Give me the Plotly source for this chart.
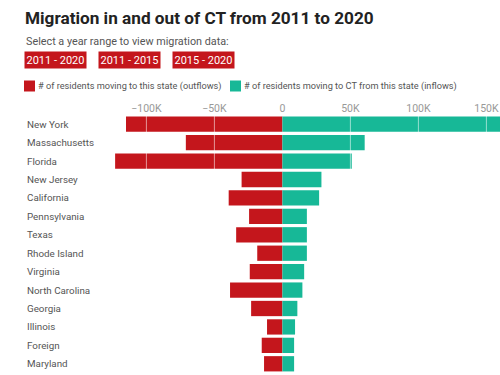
import plotly.graph_objects as go

states = ["New York", "Massachusetts", "Florida", "New Jersey", "California",
          "Pennsylvania", "Texas", "Rhode Island", "Virginia", "North Carolina",
          "Georgia", "Illinois", "Foreign", "Maryland"]
outflows = [115000, 71000, 123000, 30000, 39500, 24500, 34000, 18500, 24000,
            38500, 23000, 11300, 15200, 13500]
inflows = [165000, 60500, 51000, 28700, 27000, 18000, 18000, 18000, 16000,
           14700, 11000, 9300, 8600, 8600]
tick_vals = [-100000, -50000, 0, 50000, 100000, 150000]
tick_text = ["\u2212100K", "\u221250K", "0", "50K", "100K", "150K"]
year_ranges = ["2011 - 2020", "2011 - 2015", "2015 - 2020"]

RED = "#c4161c"
TEAL = "#17b897"
FONT = "Roboto"

TOP, BOTTOM = 115, 373
PH = BOTTOM - TOP


def py(p):
    return (BOTTOM - p) / PH


def px(p):
    return (p - 24) / 476


fig = go.Figure()
fig.add_trace(go.Bar(y=states, x=[-v for v in outflows], orientation="h",
                     marker=dict(color=RED, line=dict(width=0)),
                     name="# of residents moving to this state (outflows)", showlegend=False))
fig.add_trace(go.Bar(y=states, x=inflows, orientation="h",
                     marker=dict(color=TEAL, line=dict(width=0)),
                     name="# of residents moving to CT from this state (inflows)", showlegend=False))

fig.update_layout(
    width=500, height=375,
    margin=dict(l=24, r=0, t=TOP, b=375 - BOTTOM),
    paper_bgcolor="white", plot_bgcolor="white",
    barmode="relative", bargap=0.17,
    font=dict(family=FONT, color="#444"),
    xaxis=dict(range=[-190000, 160000], side="top", tickvals=tick_vals, ticktext=tick_text,
               tickfont=dict(size=10.5, color="#999"), showgrid=False,
               zeroline=False, showline=False, ticks="", fixedrange=True),
    yaxis=dict(autorange="reversed", ticklabelposition="inside", ticks="",
               tickfont=dict(size=9.8, color="#555"), showgrid=False, zeroline=False,
               showline=False, fixedrange=True),
)

# white gridlines drawn over the bars at the tick positions
for tv in tick_vals:
    if tv != 0:
        fig.add_shape(type="line", xref="x", yref="paper", x0=tv, x1=tv, y0=0, y1=1,
                      line=dict(color="rgba(255,255,255,0.55)", width=1), layer="above")

# title and subtitle
fig.add_annotation(text="<b>Migration in and out of CT from 2011 to 2020</b>", xref="paper", yref="paper",
                   x=0, y=py(18), xanchor="left", yanchor="middle", showarrow=False,
                   font=dict(size=17.2, color="#222", family=FONT), xshift=-1)
fig.add_annotation(text="Select a year range to view migration data:", xref="paper", yref="paper",
                   x=0, y=py(42), xanchor="left", yanchor="middle", showarrow=False,
                   font=dict(size=10.8, color="#555", family=FONT))
# year range buttons
btn_x = [24, 98, 172]
for label, bx in zip(year_ranges, btn_x):
    fig.add_annotation(text=label, xref="paper", yref="paper",
                       x=px(bx), y=py(60), xanchor="left", yanchor="middle",
                       showarrow=False, bgcolor=RED, borderpad=1.5,
                       font=dict(size=11, color="white", family=FONT))
# legend
leg_items = [(RED, "# of residents moving to this state (outflows)", 24),
             (TEAL, "# of residents moving to CT from this state (inflows)", 230)]
for col, txt, lx in leg_items:
    fig.add_shape(type="rect", xref="paper", yref="paper",
                  x0=px(lx), x1=px(lx + 11), y0=py(91.5), y1=py(80.5),
                  fillcolor=col, line=dict(width=0), layer="above")
    fig.add_annotation(text=txt, xref="paper", yref="paper", x=px(lx + 12), y=py(86),
                       xanchor="left", yanchor="middle", showarrow=False,
                       font=dict(size=9.2, color="#555", family=FONT))

fig.write_html("out.html", config={"displayModeBar": False},
               post_script="document.body.style.margin='0';")
